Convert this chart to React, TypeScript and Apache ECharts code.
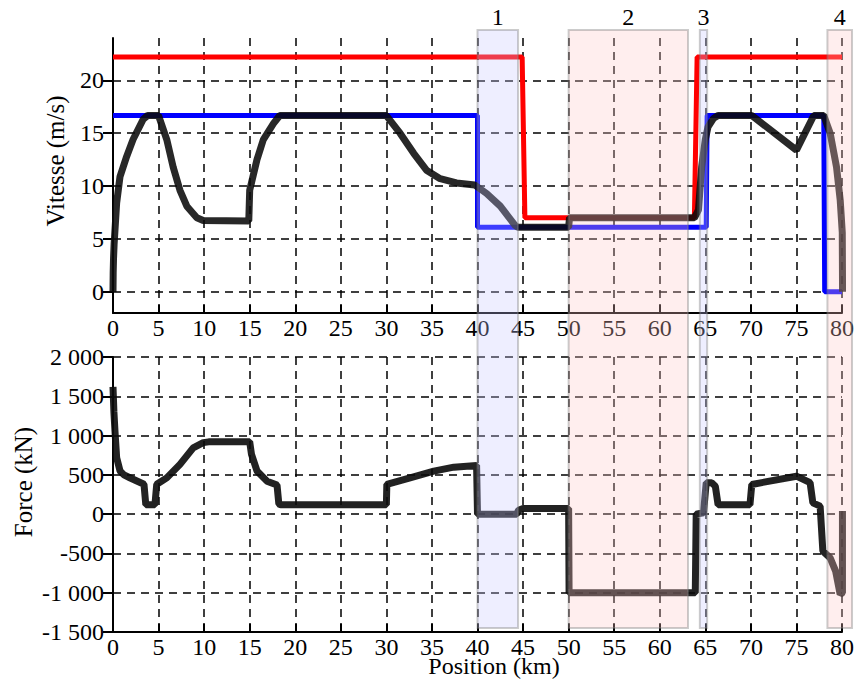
import React, { useEffect, useRef } from 'react';
import * as echarts from 'echarts';

// Speed limits (m/s) vs position (km)
const speedLimitHigh: number[][] = [
  [0, 22.2], [44.9, 22.2], [45.2, 7.0], [63.8, 7.0], [64.1, 22.2], [80, 22.2],
];
const speedLimitLow: number[][] = [
  [0, 16.67], [40, 16.67], [40, 6.11], [65.1, 6.11], [65.2, 16.67], [78.0, 16.67], [78.1, 0], [80, 0],
];
// Train speed profile (m/s)
const speedProfile: number[][] = [
  [0, 0], [0.02, 1.8], [0.06, 3.2], [0.12, 4.5], [0.22, 5.9], [0.4, 8.4], [0.77, 10.9], [1.5, 12.8],
  [2.2, 14.4], [3.3, 16.3], [3.8, 16.67], [5.0, 16.67], [5.9, 14.4], [6.6, 11.8], [7.35, 9.6],
  [8.1, 8.1], [9.2, 7.0], [9.9, 6.74], [14.9, 6.7], [15.0, 9.6], [15.8, 12.5], [16.5, 14.4],
  [17.6, 15.9], [18.3, 16.67], [30.0, 16.67], [31.5, 15.0], [33.0, 13.1], [34.4, 11.5],
  [35.9, 10.7], [37.7, 10.3], [39.7, 10.1], [41.0, 9.3], [42.5, 8.1], [44.1, 6.3], [44.4, 6.11],
  [50.0, 6.11], [50.1, 7.0], [63.8, 7.0], [64.25, 7.75], [64.6, 11.8], [65.0, 14.4], [65.3, 15.6],
  [65.9, 16.4], [66.4, 16.67], [70.1, 16.67], [75.0, 13.4], [76.9, 16.67], [78.0, 16.67],
  [78.7, 15.0], [79.4, 11.8], [79.8, 8.7], [80.03, 5.6], [80.06, 0],
];
// Traction / braking force (kN)
const forceProfile: number[][] = [
  [0, 1620], [0.1, 1300], [0.22, 1050], [0.4, 720], [0.77, 550], [1.2, 500], [1.9, 460],
  [3.4, 380], [3.6, 120], [4.6, 120], [4.8, 380], [5.9, 462], [7.35, 634], [8.8, 844],
  [9.9, 910], [10.5, 920], [15.0, 920], [15.2, 760], [15.8, 550], [16.9, 420], [18.0, 370],
  [18.2, 130], [18.4, 120], [30.0, 120], [30.05, 378], [32.6, 462], [35.2, 547], [37.4, 598],
  [39.9, 620], [40.0, 0], [44.3, 0], [44.5, 50], [45.0, 72], [50.0, 72], [50.05, -1000],
  [63.9, -1000], [64.0, 0], [64.8, 17], [65.1, 400], [65.7, 400], [66.1, 356], [66.4, 120],
  [69.9, 120], [70.1, 378], [75.0, 483], [76.5, 400], [76.8, 144], [77.6, 102], [77.9, -471],
  [78.7, -556], [79.3, -725], [79.8, -1022], [80.05, -1000], [80.05, 40],
];
// Highlighted zones
const regionStart = [40.0, 50.0, 64.4, 78.4];
const regionEnd = [44.45, 63.1, 65.2, 81.1];
const regionKind = [0, 1, 0, 1]; // 0 = blue, 1 = pink
const regionLabels = ['1', '2', '3', '4'];

const speedTicks = [0, 5, 10, 15, 20];

const FONT = "'Liberation Serif', 'Times New Roman', Times, serif";

function fmtForce(v: number): string {
  const a = Math.abs(v);
  const s = v < 0 ? '-' : '';
  if (a >= 1000) {
    const th = Math.floor(a / 1000);
    const r = String(a % 1000).padStart(3, '0');
    return s + th + ' ' + r;
  }
  return s + a;
}

export default function App() {
  const ref = useRef<HTMLDivElement>(null);
  useEffect(() => {
    if (!ref.current) return;
    const chart = echarts.init(ref.current, undefined, { renderer: 'svg' });
    const axisLine = { show: true, onZero: false, lineStyle: { color: '#000', width: 2 } };
    const splitLine = { show: true, lineStyle: { color: '#000', width: 1.5, type: [8, 6] as any } };
    const labelStyle = { color: '#000', fontFamily: FONT, fontSize: 24 };
    const xAxisBase = {
      type: 'value',
      min: 0,
      max: 80,
      interval: 5,
      axisLine,
      axisTick: { show: true, inside: true, length: 8, lineStyle: { color: '#000', width: 2 } },
      axisLabel: { ...labelStyle, margin: 3 },
      splitLine,
    };
    const option: any = {
      animation: false,
      backgroundColor: '#fff',
      grid: [
        { left: 113, top: 38, width: 729, height: 275 },
        { left: 113, top: 357, width: 729, height: 275 },
        { left: 113, top: 30, width: 729, height: 598 },
      ],
      xAxis: [
        { ...xAxisBase, gridIndex: 0 },
        { ...xAxisBase, gridIndex: 1 },
        { type: 'value', gridIndex: 2, min: 0, max: 80, show: false },
      ],
      yAxis: [
        {
          type: 'value', gridIndex: 0, min: -2, max: 24,
          axisLine,
          axisTick: { show: true, length: 10, customValues: speedTicks, lineStyle: { color: '#000', width: 2 } },
          axisLabel: { ...labelStyle, margin: 9, customValues: speedTicks },
          splitLine,
        },
        {
          type: 'value', gridIndex: 1, min: -1500, max: 2000, interval: 500,
          axisLine,
          axisTick: { show: true, length: 10, lineStyle: { color: '#000', width: 2 } },
          axisLabel: { ...labelStyle, margin: 9, formatter: (v: number) => fmtForce(v) },
          splitLine,
        },
        { type: 'value', gridIndex: 2, min: 0, max: 1, show: false },
      ],
      graphic: [
        { type: 'text', x: 55, y: 161, rotation: Math.PI / 2, style: { text: 'Vitesse (m/s)', fontFamily: FONT, fontSize: 25, fill: '#000', align: 'center', verticalAlign: 'middle' } },
        { type: 'text', x: 23, y: 482, rotation: Math.PI / 2, style: { text: 'Force (kN)', fontFamily: FONT, fontSize: 25, fill: '#000', align: 'center', verticalAlign: 'middle' } },
        { type: 'text', x: 494, y: 666, style: { text: 'Position (km)', fontFamily: FONT, fontSize: 24, fill: '#000', align: 'center', verticalAlign: 'middle' } },
      ],
      series: [
        {
          type: 'line', xAxisIndex: 0, yAxisIndex: 0, data: speedLimitHigh, showSymbol: false,
          lineStyle: { color: '#ff0000', width: 5 }, clip: false,
        },
        {
          type: 'line', xAxisIndex: 0, yAxisIndex: 0, data: speedLimitLow, showSymbol: false,
          lineStyle: { color: '#0000ff', width: 5 }, clip: false,
        },
        {
          type: 'line', xAxisIndex: 0, yAxisIndex: 0, data: speedProfile, showSymbol: false,
          lineStyle: { color: 'rgba(10,10,10,0.88)', width: 7 }, clip: false,
        },
        {
          type: 'line', xAxisIndex: 1, yAxisIndex: 1, data: forceProfile, showSymbol: false,
          lineStyle: { color: 'rgba(10,10,10,0.9)', width: 7 }, clip: false,
        },
        {
          type: 'custom', xAxisIndex: 2, yAxisIndex: 2, clip: false, z: 10,
          data: regionStart.map((s, i) => [s, regionEnd[i], regionKind[i]]),
          renderItem: (params: any, api: any) => {
            const s = api.value(0);
            const e = api.value(1);
            const k = api.value(2);
            const p0 = api.coord([s, 1]);
            const p1 = api.coord([e, 0]);
            return {
              type: 'group',
              children: [
                {
                  type: 'rect',
                  shape: { x: p0[0], y: p0[1], width: p1[0] - p0[0], height: p1[1] - p0[1] },
                  style: {
                    fill: k === 0 ? 'rgba(200,200,255,0.3)' : 'rgba(255,200,200,0.3)',
                    stroke: 'rgba(128,128,128,0.4)',
                    lineWidth: 2,
                  },
                },
                {
                  type: 'text',
                  x: (p0[0] + p1[0]) / 2,
                  y: p0[1] - 1,
                  style: {
                    text: regionLabels[params.dataIndex],
                    fontFamily: FONT,
                    fontSize: 24,
                    fill: '#000',
                    align: 'center',
                    verticalAlign: 'bottom',
                  },
                },
              ],
            };
          },
        },
      ],
    };
    chart.setOption(option);
    return () => chart.dispose();
  }, []);
  return (
    <div
      ref={ref}
      style={{ position: 'fixed', left: 0, top: 0, width: 858, height: 680, background: '#fff' }}
    />
  );
}
